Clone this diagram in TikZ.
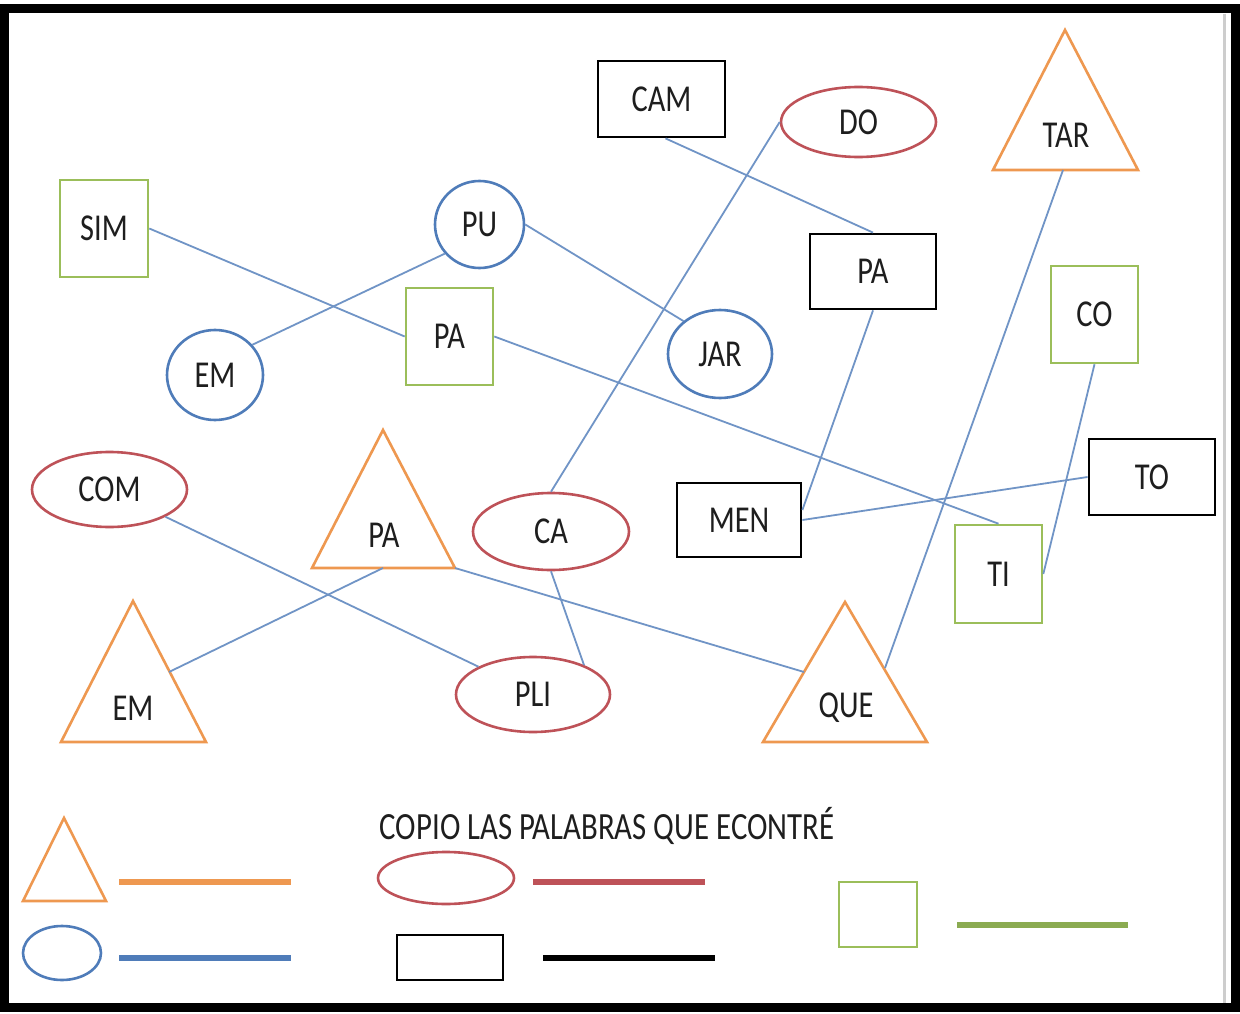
\documentclass[tikz,border=0pt]{standalone}
\usepackage{fontspec}
\setmainfont{Carlito}
\newfontfamily\lbl[FakeStretch=0.8]{Carlito}
\usetikzlibrary{shapes.geometric,calc}
\definecolor{cor}{RGB}{238,152,80}
\definecolor{cred}{RGB}{190,82,88}
\definecolor{cblue}{RGB}{79,124,185}
\definecolor{cgreen}{RGB}{155,190,90}
\definecolor{cline}{RGB}{112,148,198}
\definecolor{ctxt}{RGB}{30,30,30}
\definecolor{cgray}{RGB}{205,205,205}
\begin{document}
\begin{tikzpicture}[x=1pt,y=-1pt,
  lbltxt/.style={inner sep=0pt,text=ctxt,font=\lbl\fontsize{38}{40}\selectfont},
  blackbox/.style={lbltxt,draw=black,line width=2.8pt,rectangle},
  greenbox/.style={lbltxt,draw=cgreen,line width=2.6pt,rectangle},
  redell/.style={lbltxt,draw=cred,line width=2.6pt,ellipse},
  blueell/.style={lbltxt,draw=cblue,line width=2.6pt,ellipse},
  tri/.style={draw=cor,line width=2.6pt,line join=miter},
  conn/.style={draw=cline,line width=1.8pt},
  legline/.style={line width=5.5pt}]
\useasboundingbox (0,0) rectangle (1240,1014);
\fill[white] (0,0) rectangle (1240,1014);
\draw[cgray,line width=3pt] (1224,14) -- (1224,1003);
\draw[black,line width=9pt] (4.5,9) rectangle (1235.5,1007.5);

% rectangles
\node[blackbox,minimum width=127,minimum height=76] (cam) at (661.5,99) {CAM};
\node[blackbox,minimum width=126,minimum height=75] (pab) at (873,271.5) {PA};
\node[blackbox,minimum width=124,minimum height=74] (men) at (739,520) {MEN};
\node[blackbox,minimum width=126,minimum height=76] (to) at (1152,477) {TO};
\node[greenbox,minimum width=88,minimum height=97] (sim) at (104,228.5) {SIM};
\node[greenbox,minimum width=87,minimum height=97] (co) at (1094.5,314.5) {CO};
\node[greenbox,minimum width=87,minimum height=97] (pag) at (449.5,336.5) {PA};
\node[greenbox,minimum width=87,minimum height=98] (ti) at (998.5,574) {TI};

% ellipses
\node[redell,minimum width=155,minimum height=70] (do) at (858.5,122) {DO};
\node[redell,minimum width=155,minimum height=75] (com) at (109.5,489.5) {COM};
\node[redell,minimum width=156,minimum height=77] (ca) at (551,531.5) {CA};
\node[redell,minimum width=154,minimum height=75] (pli) at (533,694.5) {PLI};
\node[blueell,minimum width=89,minimum height=87] (pu) at (479.5,224.5) {PU};
\node[blueell,minimum width=104,minimum height=88] (jar) at (720,354) {JAR};
\node[blueell,minimum width=96,minimum height=90] (emc) at (215,375) {EM};

% triangles
\draw[tri] (1065,30) -- (1138,170) -- (993,170) -- cycle;
\coordinate (tarbase) at (1063,170);
\node[lbltxt] (tar) at (1066,135) {TAR};
\draw[tri] (383,430) -- (455,568) -- (312,568) -- cycle;
\coordinate (patbase) at (383,568);
\coordinate (patright) at (455,568);
\node[lbltxt] (pat) at (384,535) {PA};
\draw[tri] (133,601) -- (206,742) -- (61,742) -- cycle;
\coordinate (emtside) at (169,672);
\node[lbltxt] (emt) at (133,708) {EM};
\draw[tri] (845,602) -- (927,742) -- (763,742) -- cycle;
\coordinate (queleft) at (804,672);
\coordinate (queright) at (885,668);
\node[lbltxt] (que) at (846,708) {QUE};

% connectors
\draw[conn] (cam.south) ++(4,0) -- (pab.north);
\draw[conn] (do.west) -- (ca.north);
\draw[conn] (tarbase) -- (queright);
\draw[conn] (sim.east) -- (pag.west);
\draw[conn] (pu.220) -- (emc.39);
\draw[conn] (pu.east) -- (jar.138);
\draw[conn] (pag.east) -- (ti.north);
\draw[conn] (pab.south) -- (men.9);
\draw[conn] (co.south) -- (ti.east);
\draw[conn] (to.west) -- (men.east);
\draw[conn] (com.-26) -- (pli.153);
\draw[conn] (patbase) -- (emtside);
\draw[conn] (patright) -- (queleft);
\draw[conn] (ca.south) -- (pli.30);

% legend
\node[inner sep=0pt,text=ctxt,font=\lbl\fontsize{38.5}{40}\selectfont] (title) at (607,826) {COPIO LAS PALABRAS QUE ECONTRÉ};
\draw[tri] (64,818) -- (106,901) -- (23,901) -- cycle;
\draw[legline,cor] (119,882) -- (291,882);
\draw[draw=cred,line width=2.6pt] (446,878) ellipse [x radius=68, y radius=26];
\draw[legline,cred] (533,882) -- (705,882);
\draw[draw=cgreen,line width=2.6pt] (839,882) rectangle (917,947);
\draw[legline,cgreen!90!black] (957,925) -- (1128,925);
\draw[draw=cblue,line width=2.6pt] (62,953) ellipse [x radius=39, y radius=27];
\draw[legline,cblue] (119,958) -- (291,958);
\draw[draw=black,line width=2.8pt] (397,935) rectangle (503,980);
\draw[legline,black] (543,958) -- (715,958);
\end{tikzpicture}
\end{document}
